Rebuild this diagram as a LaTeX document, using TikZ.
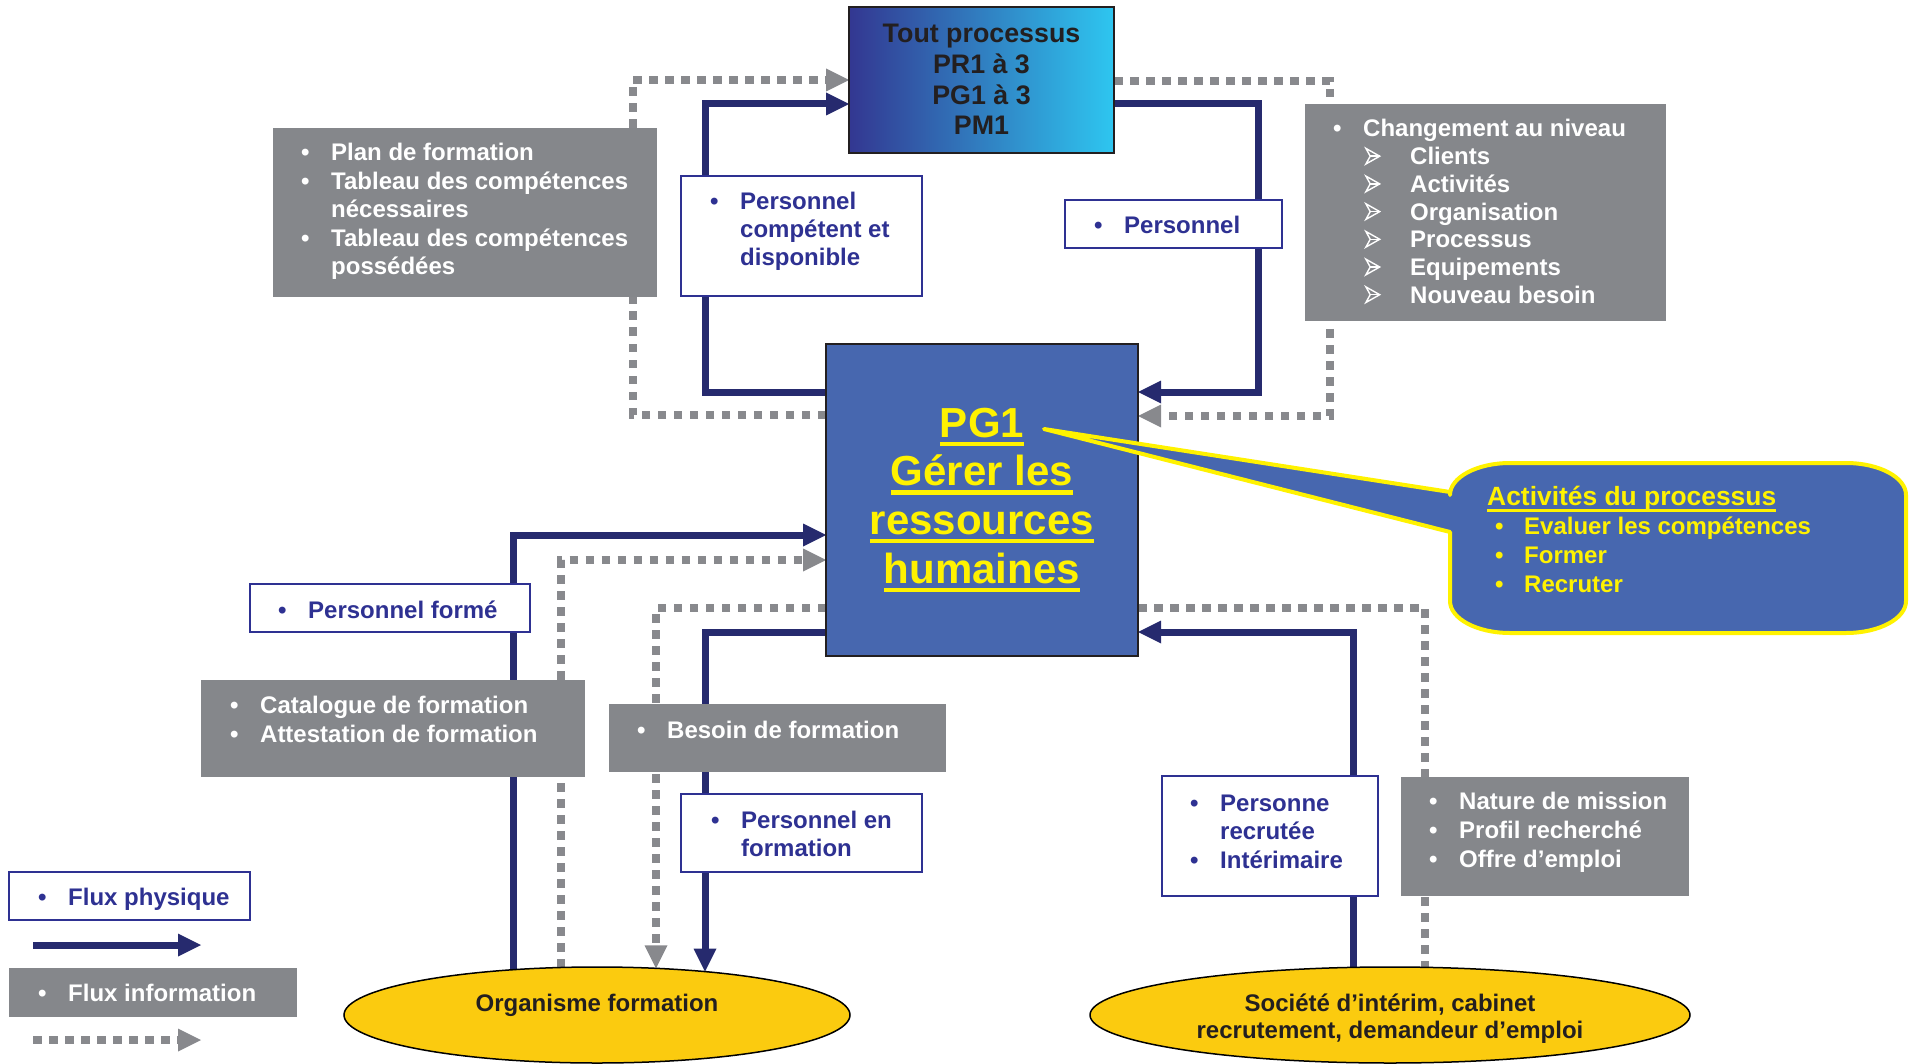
\documentclass[tikz,border=0pt]{standalone}
\usepackage{fontspec}
\setmainfont{Liberation Sans}
\usetikzlibrary{arrows.meta,calc,shapes.geometric}
\pgfdeclarelayer{bg}
\pgfsetlayers{bg,main}
\definecolor{cNavy}{RGB}{38,42,110}
\definecolor{cBlueTxt}{RGB}{46,49,146}
\definecolor{cGrey}{RGB}{133,135,139}
\definecolor{cDot}{RGB}{136,137,141}
\definecolor{cPG}{RGB}{71,103,175}
\definecolor{cYel}{RGB}{255,242,0}
\definecolor{cEll}{RGB}{251,203,15}
\definecolor{cDark}{RGB}{35,31,32}
\definecolor{cGradL}{RGB}{51,55,145}
\definecolor{cGradM}{RGB}{38,140,205}
\definecolor{cGradR}{RGB}{46,198,240}
\newcommand\fsz[2]{\fontsize{#1}{#2}\selectfont\bfseries}
\newcommand\bu{\makebox[30pt][l]{\textbullet}}
\newcommand\ind{\hspace*{30pt}}
\newcommand\yul[3]{\setbox0\hbox{#3}\rlap{\rule[-#1]{\wd0}{#2}}\box0}
\newcommand\chev{\tikz[baseline=0pt,x=1pt,y=1pt,line width=1.4pt,line join=miter]{\draw[white] (0.7,0.7)--(14.5,8.5)--(0.7,16.3)--(5,8.5)--cycle; \draw[white] (5,8.5)--(14.5,8.5);}}
\newcommand\crow[1]{\ind\hspace*{2pt}\makebox[45pt][l]{\chev}#1}
\tikzset{
  phys/.style={draw=cNavy, line width=7pt, -{Triangle[length=23pt,width=23pt,line width=0pt]}},
  info/.style={draw=cDot, line width=7.5pt, dash pattern=on 8.5pt off 7.5pt, -{Triangle[length=23pt,width=23pt,line width=0pt]}},
  infoplain/.style={draw=cDot, line width=7.5pt, dash pattern=on 8.5pt off 7.5pt},
  box/.style={anchor=north west, inner sep=0pt, outer sep=0pt},
  greybox/.style={box, fill=cGrey},
  whitebox/.style={box, fill=white, draw=cBlueTxt, line width=2.5pt},
  gtxt/.style={anchor=base west, inner sep=0pt, text=white, font={\fsz{24}{28.5}}},
  btxt/.style={anchor=base west, inner sep=0pt, text=cBlueTxt, font={\fsz{24}{28.5}}},
  etxt/.style={anchor=base, inner sep=0pt, text=cDark, font={\fsz{24}{26.5}}},
  ell/.style={ellipse, draw=black, line width=1.5pt, fill=cEll, inner sep=0pt, minimum height=96pt},
  callout/.style={draw=cYel, fill=cPG, line width=4pt, line join=round}
}
\begin{document}
\begin{tikzpicture}[x=1pt,y=-1pt]
\useasboundingbox (0,0) rectangle (1910,1064);

% main boxes
\node[box, draw=cDark, line width=2pt, left color=cGradL, middle color=cGradM, right color=cGradR,
      minimum width=265pt, minimum height=146pt] (top) at (849,7) {};
\node[anchor=base, inner sep=0pt, text=cDark, font={\fsz{26.8}{30.6}}] (topt) at (981.5,43)
  {\begin{tabular}[t]{@{}c@{}}Tout processus\\ PR1 à 3\\ PG1 à 3\\ PM1\end{tabular}};

\node[box, fill=cPG, draw=cDark, line width=2pt, minimum width=312pt, minimum height=312pt] (pg1) at (826,344) {};
\node[anchor=base, inner sep=0pt, text=cYel, font={\fsz{42}{48.7}}] (pg1t) at (982,437)
  {\begin{tabular}[t]{@{}c@{}}\yul{9pt}{4.3pt}{PG1}\\ \yul{9pt}{4.3pt}{Gérer les}\\ \yul{9pt}{4.3pt}{ressources}\\ \yul{9pt}{4.3pt}{humaines}\end{tabular}};

% callout
\draw[callout] (1450,532) -- (1044,429) -- (1450,492) -- (1450,495)
  .. controls (1450,477.3) and (1476.9,463) .. (1510,463)
  -- (1846,463) .. controls (1879.1,463) and (1906,477.3) .. (1906,495)
  -- (1906,601) .. controls (1906,618.7) and (1879.1,633) .. (1846,633)
  -- (1510,633) .. controls (1476.9,633) and (1450,618.7) .. (1450,601) -- cycle;
\node[anchor=base west, inner sep=0pt, text=cYel, font={\fsz{24}{29.3}}] (calt) at (1487,505)
  {\begin{tabular}[t]{@{}l@{}}{\fontsize{26.4}{29.3}\selectfont\yul{6.5pt}{3pt}{Activités du processus}}\\
   \hspace*{8pt}\makebox[29pt][l]{\textbullet}Evaluer les compétences\\
   \hspace*{8pt}\makebox[29pt][l]{\textbullet}Former\\
   \hspace*{8pt}\makebox[29pt][l]{\textbullet}Recruter\end{tabular}};

% label boxes
\node[greybox, minimum width=384pt, minimum height=169pt] (g1) at (273,128) {};
\node[gtxt] (g1t) at (301,161) {\begin{tabular}[t]{@{}l@{}}\bu Plan de formation\\ \bu Tableau des compétences\\ \ind nécessaires\\ \bu Tableau des compétences\\ \ind possédées\end{tabular}};

\node[whitebox, minimum width=241pt, minimum height=120pt] (pcd) at (681,176) {};
\node[btxt, font={\fsz{24}{27.8}}] (pcdt) at (710,210) {\begin{tabular}[t]{@{}l@{}}\bu Personnel\\ \ind compétent et\\ \ind disponible\end{tabular}};

\node[whitebox, minimum width=217pt, minimum height=48pt] (pers) at (1065,200) {};
\node[btxt] (perst) at (1094,234) {\bu Personnel};

\node[greybox, minimum width=361pt, minimum height=217pt] (chg) at (1305,104) {};
\node[gtxt, font={\fsz{24}{27.7}}] (chgt) at (1333,137) {\begin{tabular}[t]{@{}l@{}}\bu Changement au niveau\\ \crow{Clients}\\ \crow{Activités}\\ \crow{Organisation}\\ \crow{Processus}\\ \crow{Equipements}\\ \crow{Nouveau besoin}\end{tabular}};

\node[whitebox, minimum width=280pt, minimum height=48pt] (pf) at (250,584) {};
\node[btxt] (pft) at (278,618) {\bu Personnel formé};

\node[greybox, minimum width=384pt, minimum height=97pt] (cat) at (201,680) {};
\node[gtxt, font={\fsz{24}{29.5}}] (catt) at (230,713) {\begin{tabular}[t]{@{}l@{}}\bu Catalogue de formation\\ \bu Attestation de formation\end{tabular}};

\node[greybox, minimum width=337pt, minimum height=68pt] (bes) at (609,704) {};
\node[gtxt] (best) at (637,738) {\bu Besoin de formation};

\node[whitebox, minimum width=241pt, minimum height=78pt] (pef) at (681,794) {};
\node[btxt, font={\fsz{24}{28}}] (peft) at (711,828) {\begin{tabular}[t]{@{}l@{}}\bu Personnel en\\ \ind formation\end{tabular}};

\node[whitebox, minimum width=216pt, minimum height=120pt] (pr) at (1162,776) {};
\node[btxt] (prt) at (1190,811) {\begin{tabular}[t]{@{}l@{}}\bu Personne\\ \ind recrutée\\ \bu Intérimaire\end{tabular}};

\node[greybox, minimum width=288pt, minimum height=119pt] (nat) at (1401,777) {};
\node[gtxt, font={\fsz{24}{29}}] (natt) at (1429,809) {\begin{tabular}[t]{@{}l@{}}\bu Nature de mission\\ \bu Profil recherché\\ \bu Offre d’emploi\end{tabular}};

% legend
\node[whitebox, minimum width=241pt, minimum height=48pt] (lfp) at (9,872) {};
\node[btxt] (lfpt) at (38,905) {\bu Flux physique};
\node[greybox, minimum width=288pt, minimum height=49pt] (lfi) at (9,968) {};
\node[gtxt] (lfit) at (38,1001) {\bu Flux information};
\coordinate (lpa) at (33,945);
\coordinate (lpb) at (201,945);
\coordinate (lia) at (33,1040);
\coordinate (lib) at (201,1040);

% ellipses
\node[ell, minimum width=506pt] (ell1) at (597,1015) {};
\node[etxt] (ell1t) at (597,1011.7) {Organisme formation};
\node[ell, minimum width=600pt] (ell2) at (1390,1015) {};
\node[etxt] (ell2t) at (1390,1011.7) {\begin{tabular}[t]{@{}c@{}}Société d’intérim, cabinet\\ recrutement, demandeur d’emploi\end{tabular}};

\coordinate (e1a) at ($(ell1.center)+(-84,-45.3)$);
\coordinate (e1b) at ($(ell1.center)+(-36,-47.5)$);
\coordinate (e1c) at ($(ell1.center)+(59,-46.7)$);
\coordinate (e1d) at ($(ell1.center)+(108,-43.4)$);
\coordinate (e2a) at ($(ell2.center)+(-37,-47.6)$);
\coordinate (e2b) at ($(ell2.center)+(35,-47.7)$);

\begin{pgfonlayer}{bg}
  % top loop
  \draw[phys] ($(pg1.north west)+(0,48)$) -| (705,104) -- ($(top.north west)+(0,97)$);
  \draw[info] ($(pg1.north west)+(0,71)$) -| (633,80) -- ($(top.north west)+(0,73)$);
  \draw[phys] ($(top.north east)+(0,97)$) -| (1258,392) -- ($(pg1.north east)+(0,48)$);
  \draw[info] ($(top.north east)+(0,74)$) -| (1330,416) -- ($(pg1.north east)+(0,72)$);
  % training organisation
  \draw[phys] (e1a) |- ($(pg1.north west)+(0,191)$);
  \draw[info] (e1b) |- ($(pg1.north west)+(0,216)$);
  \draw[info] ($(pg1.north west)+(0,264)$) -| (e1c);
  \draw[phys] ($(pg1.north west)+(0,288)$) -| (e1d);
  % recruitment
  \draw[phys] (e2a) |- ($(pg1.north east)+(0,288)$);
  \draw[infoplain] ($(pg1.north east)+(0,264)$) -| (e2b);
  % legend
  \draw[phys] (lpa) -- (lpb);
  \draw[info] (lia) -- (lib);
\end{pgfonlayer}
\end{tikzpicture}
\end{document}
